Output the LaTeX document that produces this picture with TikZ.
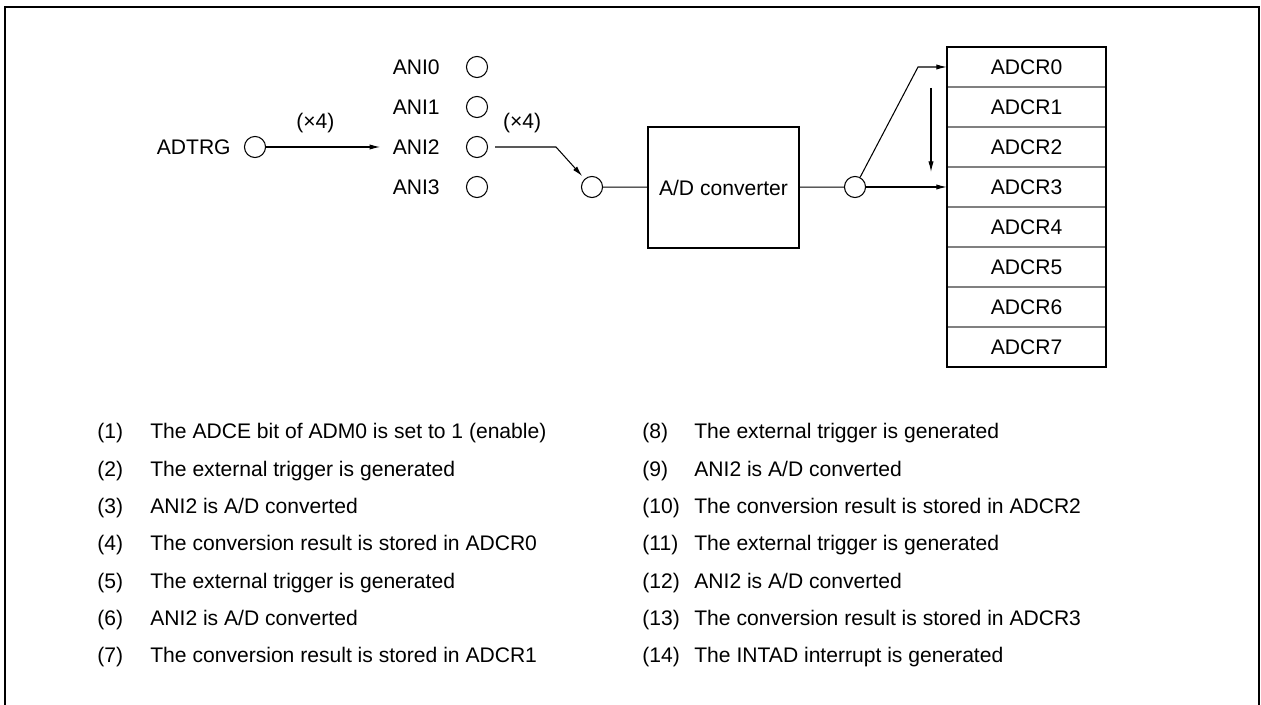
\documentclass[tikz,border=0pt]{standalone}
\usepackage{fontspec}
\setmainfont{Liberation Sans}
\usetikzlibrary{arrows.meta,positioning}
\tikzset{
  pin/.style={circle,draw,line width=0.6pt,minimum size=12pt,inner sep=0pt},
  regrow/.style={draw=gray,line width=0.5pt,minimum width=90.2pt,minimum height=22.7pt,inner sep=0pt},
  lbl/.style={inner sep=0pt},
  wire/.style={line width=0.6pt},
  feed/.style={line width=0.6pt,-{Latex[length=6pt,width=3pt]}},
}
\begin{document}
\begin{tikzpicture}[x=0.02cm,y=-0.02cm,font=\fontsize{12}{14}\selectfont]
\useasboundingbox (0,0) rectangle (1261,705);
\draw[line width=1.2pt] (5,705) -- (5,7) -- (1259,7) -- (1259,705);
\node[lbl,anchor=east] (adtrg) at (231,147) {ADTRG};
\node[pin] (p-adtrg) at (255,147) {};
\foreach \i/\y in {0/67,1/107,2/147,3/187}{
  \node[lbl,anchor=east] (ani\i) at (440,\y) {ANI\i};
  \node[pin] (p-ani\i) at (477,\y) {};
}
\node[pin] (mux) at (592,187) {};
\node[draw,line width=1.2pt,minimum width=85.6pt,minimum height=68.6pt] (adc) at (723.5,187.5) {A/D converter};
\node[pin] (out) at (855,187) {};
\foreach \i in {0,...,7}
  \node[regrow] (adcr\i) at (1026.5,67+40*\i) {ADCR\i};
\draw[line width=1.2pt] (adcr0.north west) rectangle (adcr7.south east);
\coordinate (bend) at (556,147);
\coordinate (knee) at (918,67);
\coordinate (seqtop) at (931,88);
\coordinate (seqbot) at (931,172);
\draw[feed,shorten >=7pt] (p-adtrg) -- node[pos=0.39,above=4.5pt] (rep1) {(×4)} (ani2);
\draw[feed,shorten <=4pt,shorten >=2pt] (p-ani2) -- node[midway,above=4.5pt] (rep2) {(×4)} (bend) -- (mux);
\draw[wire] (mux) -- (adc);
\draw[wire] (adc) -- (out);
\draw[feed] (out) -- (adcr3);
\draw[feed] (out) -- (knee) -- (adcr0);
\draw[feed] (seqtop) -- (seqbot);
\foreach \t [count=\k] in {The ADCE bit of ADM0 is set to 1 (enable),The external trigger is generated,{ANI2 is A/D converted},The conversion result is stored in ADCR0,The external trigger is generated,{ANI2 is A/D converted},The conversion result is stored in ADCR1}{
  \node[lbl,anchor=base west] (num\k) at (97,439+37.33*\k-37.33) {(\k)};
  \node[lbl,anchor=base west] (step\k) at (150,439+37.33*\k-37.33) {\t};
}
\foreach \t [count=\k from 8] in {The external trigger is generated,{ANI2 is A/D converted},The conversion result is stored in ADCR2,The external trigger is generated,{ANI2 is A/D converted},The conversion result is stored in ADCR3,The INTAD interrupt is generated}{
  \node[lbl,anchor=base west] (num\k) at (642,439+37.33*\k-298.64) {(\k)};
  \node[lbl,anchor=base west] (step\k) at (694,439+37.33*\k-298.64) {\t};
}
\end{tikzpicture}
\end{document}
